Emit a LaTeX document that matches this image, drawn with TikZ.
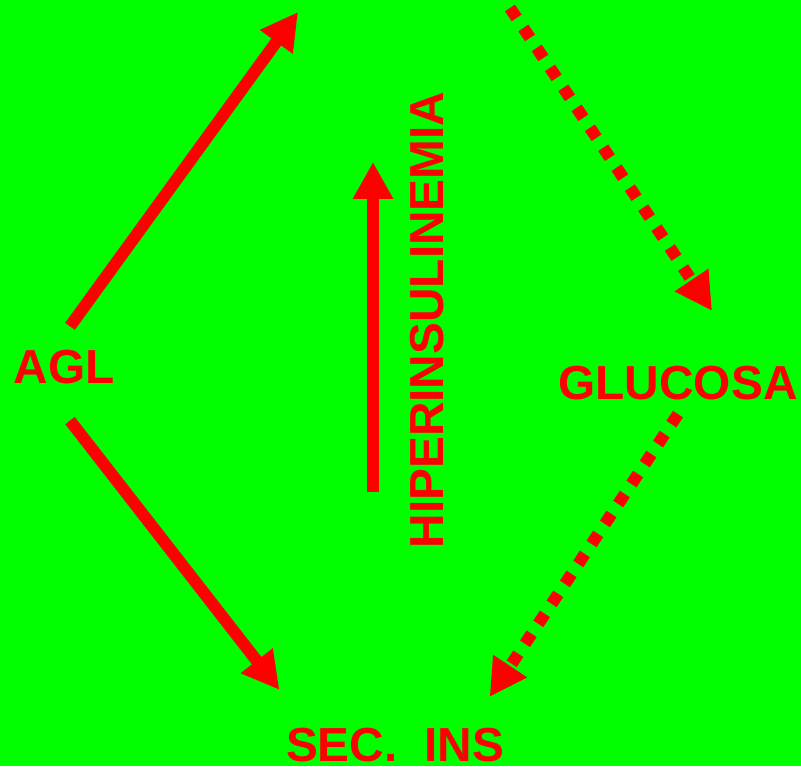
\documentclass[tikz,border=0pt]{standalone}
\usepackage{fontspec}
\setmainfont{Liberation Sans}
\usetikzlibrary{positioning}
\usetikzlibrary{arrows.meta}
\definecolor{bggreen}{RGB}{0,255,0}
\definecolor{arrred}{RGB}{255,0,0}

\begin{document}
\begin{tikzpicture}[
    lbl/.style={text=arrred, inner sep=0pt, font=\bfseries\fontsize{13.6}{16}\selectfont},
    arr/.style={draw=arrred, line width=0.12cm, -{Triangle[length=0.37cm, width=0.38cm]}},
    dotarr/.style={arr, dash pattern=on 0.12cm off 0.12cm}
  ]
    \fill[bggreen] (0, 0) rectangle (8.01, 7.66);
    \useasboundingbox (0, 0) rectangle (8.01, 7.66);

    % labels
    \node[lbl] (agl) at (0.64, 3.99) {AGL};
    \node[lbl] (glucosa) at (6.78, 3.83) {GLUCOSA};
    \node[lbl] (secins) at (3.95, 0.21) {SEC.\ \ INS};
    \node[lbl, rotate=90] (hiper) at (4.27, 4.46) {HIPERINSULINEMIA};

    % free ends at the top edge
    \coordinate (top) at (2.98, 7.54);
    \coordinate (topdot) at (5.10, 7.58);
    \coordinate (hbot) at (3.73, 2.74);
    \coordinate (htop) at (3.73, 6.04);

    \draw[arr] ([shift={(0.06, 0.23)}]agl.north) -- (top);
    \draw[arr] ([shift={(0.06, -0.36)}]agl.south) -- ([shift={(-0.06, 0.375)}]secins.north west);
    \draw[arr] (hbot) -- (htop);

    \draw[dotarr] (topdot) -- ([shift={(0.34, 0.545)}]glucosa.north);
    \draw[dotarr] ([shift={(0, -0.135)}]glucosa.south) -- ([shift={(-0.15, 0.305)}]secins.north east);
\end{tikzpicture}
\end{document}
